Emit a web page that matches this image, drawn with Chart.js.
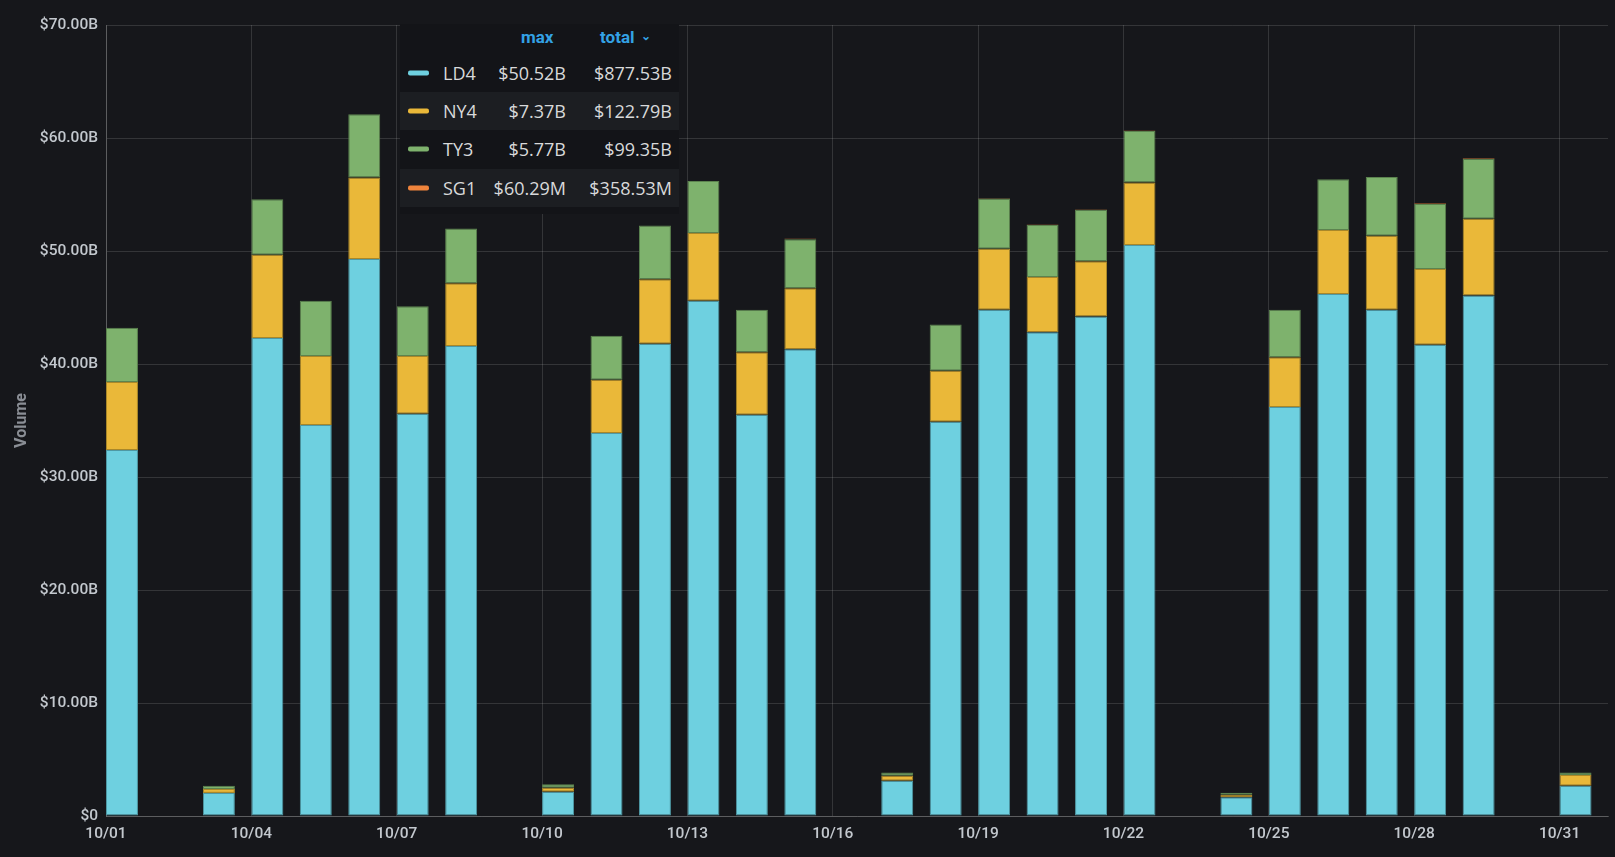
<!DOCTYPE html>
<html>
<head>
<meta charset="utf-8">
<script src="https://cdn.jsdelivr.net/npm/chart.js@4.4.1/dist/chart.umd.min.js"></script>
<style>
  html, body { margin: 0; padding: 0; background: #16171b; overflow: hidden; }
  #wrap { position: relative; width: 1615px; height: 857px; }
  #legend {
    position: absolute; left: 400px; top: 24px; width: 279px; height: 190px;
    background: #131418; font-family: 'Open Sans', 'Noto Sans', sans-serif;
    color: #d8d9da; font-size: 18px;
  }
  .row { position: absolute; left: 0; width: 279px; height: 38px; }
  .row.alt { background: #1c1e22; }
  .row span { position: absolute; top: 50%; transform: translateY(-50%); white-space: nowrap; line-height: 1; }
  .hdr { position: absolute; color: #33a2e5; font-family: Roboto, sans-serif; font-weight: 700; font-size: 17px; white-space: nowrap; }
  .sw { width: 21px; height: 5px; border-radius: 2px; left: 8px; }
</style>
</head>
<body>
<div id="wrap">
  <canvas id="c" width="1615" height="857"></canvas>
  <div id="legend"></div>
</div>
<script>
// ---- data ----
const days = [1,2,3,4,5,6,7,8,9,10,11,12,13,14,15,16,17,18,19,20,21,22,23,24,25,26,27,28,29,30,31];
const tickDays = [1,4,7,10,13,16,19,22,25,28,31];
const yTicks = [0,10,20,30,40,50,60,70];
const seriesNames = ['LD4','NY4','TY3','SG1'];
const ld4 = [32.4,null,2.04,42.3,34.6,49.3,35.6,41.6,null,2.15,33.9,41.8,45.6,35.5,41.3,null,3.12,34.9,44.8,42.8,44.2,50.52,null,1.65,36.2,46.2,44.8,41.7,46.06,null,2.68];
const ny4 = [6.0,null,0.35,7.37,6.1,7.2,5.1,5.55,null,0.35,4.7,5.7,6.0,5.55,5.4,null,0.44,4.5,5.4,4.9,4.9,5.55,null,0.23,4.4,5.65,6.55,6.7,6.8,null,0.94];
const ty3 = [4.8,null,0.29,4.9,4.9,5.6,4.4,4.85,null,0.30,3.9,4.75,4.6,3.75,4.35,null,0.30,4.1,4.45,4.6,4.55,4.55,null,0.18,4.2,4.5,5.2,5.77,5.3,null,0.24];
const sg1 = [null,null,null,null,null,null,null,null,null,null,null,null,null,null,0.05,null,null,null,0.04,0.05,0.05,0.05,null,null,null,null,null,0.06029,0.06,null,null];
const legendHeaders = ['max','total'];
const legendMax = ['$50.52B','$7.37B','$5.77B','$60.29M'];
const legendTotal = ['$877.53B','$122.79B','$99.35B','$358.53M'];

// ---- style ----
const colors = ['#6ED0E0','#EAB839','#7EB26D','#EF843C'];
const borders = ['#4e98a4','#a98729','#5c834f','#b0612c'];
const BAR_FRAC = 0.66;            // bar width as fraction of a day
const SHIFT = BAR_FRAC / 2;       // bars start at the day boundary
const values = [ld4, ny4, ty3, sg1];

const datasets = seriesNames.map((name, s) => ({
  label: name,
  data: days.map((d, i) => ({ x: d + SHIFT, y: values[s][i] })),
  backgroundColor: colors[s],
  borderColor: borders[s],
  borderWidth: 1,
  borderSkipped: false,
  barPercentage: BAR_FRAC,
  categoryPercentage: 1.0
}));

const tickFont = { family: 'Roboto', size: 15.5, weight: '500' };
const gridColor = 'rgba(255,255,255,0.13)';

new Chart(document.getElementById('c'), {
  type: 'bar',
  data: { datasets },
  options: {
    responsive: false,
    animation: false,
    layout: { padding: { top: 25, right: 7, left: 0, bottom: 0 } },
    plugins: { legend: { display: false }, tooltip: { enabled: false } },
    scales: {
      x: {
        type: 'linear', stacked: true, offset: false,
        min: 1, max: 32,
        afterBuildTicks: (sc) => { sc.ticks = tickDays.map(v => ({ value: v })); },
        afterFit: (sc) => { sc.height = 41; },
        ticks: {
          color: '#c3c8ce', font: tickFont, padding: 9, maxRotation: 0, autoSkip: false,
          callback: (v) => '10/' + String(v).padStart(2, '0')
        },
        grid: { color: gridColor, drawTicks: false, offset: false },
        border: { color: 'rgba(255,255,255,0.2)' }
      },
      y: {
        stacked: true, min: 0, max: 70,
        afterBuildTicks: (sc) => { sc.ticks = yTicks.map(v => ({ value: v })); },
        afterFit: (sc) => { sc.width = 106; },
        ticks: {
          color: '#c3c8ce', font: tickFont, padding: 8,
          callback: (v) => v === 0 ? '$0' : '$' + v.toFixed(2) + 'B'
        },
        grid: { color: gridColor, drawTicks: false },
        border: { color: 'rgba(255,255,255,0.2)' },
        title: {
          display: true, text: 'Volume', color: '#8a8e95',
          font: { family: 'Roboto', size: 16, weight: '700' },
          padding: { top: 12, bottom: 0 }
        }
      }
    }
  }
});

// ---- legend table ----
const rowCenters = [49, 87, 125, 164];   // px inside legend box
let html = '<div class="hdr" style="left:121px;top:3px;">' + legendHeaders[0] + '</div>' +
           '<div class="hdr" style="left:200px;top:3px;">' + legendHeaders[1] +
           '<span style="font-size:12px;margin-left:7px;position:relative;top:-3px">&#8964;</span></div>';
seriesNames.forEach((n, i) => {
  html += '<div class="row' + (i % 2 ? ' alt' : '') + '" style="top:' + (rowCenters[i] - 19) + 'px">' +
    '<span class="sw" style="background:' + colors[i] + '"></span>' +
    '<span style="left:43px">' + n + '</span>' +
    '<span style="right:113px">' + legendMax[i] + '</span>' +
    '<span style="right:7px">' + legendTotal[i] + '</span></div>';
});
document.getElementById('legend').innerHTML = html;
</script>
</body>
</html>
